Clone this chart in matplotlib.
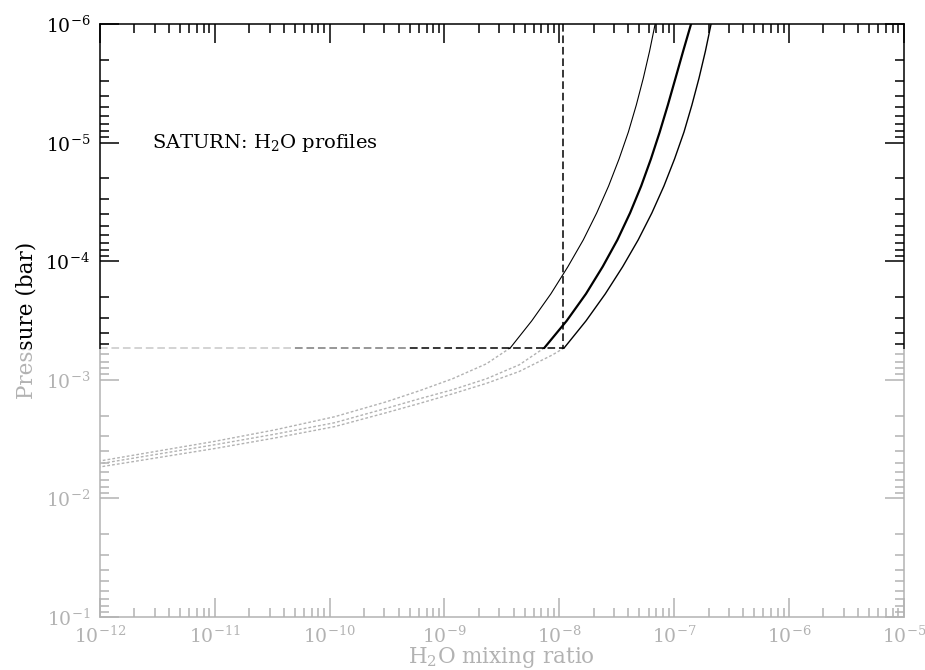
import numpy as np
import matplotlib
matplotlib.use("Agg")
import matplotlib.pyplot as plt
from matplotlib.patches import Rectangle
from matplotlib.ticker import FixedLocator, LogLocator, NullFormatter

plt.rcParams['font.family'] = ['DejaVu Serif']
plt.rcParams['mathtext.fontset'] = 'dejavuserif'

# pressure levels (bar) shared by the three stratospheric profiles
p_strat = [1.0e-6, 1.69e-6, 2.85e-6, 4.81e-6, 8.13e-6, 1.37e-5, 2.32e-5,
           3.91e-5, 6.60e-5, 1.11e-4, 1.88e-4, 3.18e-4, 5.37e-4]
q_low = [6.84e-8, 6.12e-8, 5.40e-8, 4.69e-8, 4.00e-8, 3.32e-8, 2.69e-8,
         2.12e-8, 1.62e-8, 1.19e-8, 8.46e-9, 5.76e-9, 3.75e-9]
q_mid = [1.405e-7, 1.20e-7, 1.03e-7, 8.83e-8, 7.50e-8, 6.29e-8, 5.17e-8,
         4.14e-8, 3.21e-8, 2.39e-8, 1.71e-8, 1.16e-8, 7.42e-9]
q_high = [2.10e-7, 1.875e-7, 1.65e-7, 1.43e-7, 1.22e-7, 1.01e-7, 8.16e-8,
          6.41e-8, 4.87e-8, 3.57e-8, 2.52e-8, 1.71e-8, 1.105e-8]

# saturation branches below the condensation level
sat_low_q = [3.75e-9, 2.32e-9, 1.174e-9, 6.06e-10, 3.13e-10, 1.105e-10, 3.32e-11, 1e-11, 1e-12]
sat_low_p = [5.37e-4, 7.32e-4, 9.79e-4, 1.235e-3, 1.529e-3, 2.046e-3, 2.643e-3, 3.297e-3, 4.825e-3]
sat_mid_q = [7.42e-9, 4.49e-9, 2.32e-9, 1.174e-9, 6.06e-10, 3.13e-10, 1.105e-10, 3.32e-11, 1e-11, 1e-12]
sat_mid_p = [5.37e-4, 7.46e-4, 9.79e-4, 1.212e-3, 1.443e-3, 1.735e-3, 2.298e-3, 2.872e-3, 3.522e-3, 5.09e-3]
sat_high_q = [1.105e-8, 8.69e-9, 4.49e-9, 2.32e-9, 1.174e-9, 6.06e-10, 3.13e-10, 1.105e-10,
              3.32e-11, 1e-11, 1e-12]
sat_high_p = [5.37e-4, 6.17e-4, 8.49e-4, 1.070e-3, 1.312e-3, 1.580e-3, 1.889e-3, 2.479e-3,
              3.093e-3, 3.791e-3, 5.42e-3]

# condensation level and mixing ratio marked by the dashed guides
p_cond = 5.37e-4
q_cond = 1.08e-8

x_decades = [1e-12, 1e-11, 1e-10, 1e-9, 1e-8, 1e-7, 1e-6, 1e-5]
y_decades = [1e-6, 1e-5, 1e-4, 1e-3, 1e-2, 1e-1]

fig = plt.figure(figsize=(9.25, 6.7), dpi=100)
ax = fig.add_axes([0.108, 0.079, 0.869, 0.885])

ax.set_xscale('log')
ax.set_yscale('log')
ax.set_xlim(1e-12, 1e-5)
ax.set_ylim(1e-1, 1e-6)

dash = (0, (5, 2.5))
ax.plot([q_cond, q_cond], [1e-6, p_cond], color='black', lw=1.1, linestyle=dash)
ax.plot([1e-12, 10**-10.3], [p_cond, p_cond], color='#c8c8c8', lw=1.1, linestyle=dash)
ax.plot([10**-10.3, 10**-9.3], [p_cond, p_cond], color='#7a7a7a', lw=1.1, linestyle=dash)
ax.plot([10**-9.3, q_cond], [p_cond, p_cond], color='black', lw=1.1, linestyle=dash)

ax.plot(q_low, p_strat, color='black', lw=0.8)
ax.plot(q_mid, p_strat, color='black', lw=1.6)
ax.plot(q_high, p_strat, color='black', lw=1.0)

dots = (0, (2, 1.5))
ax.plot(sat_low_q, sat_low_p, color='black', lw=1.0, linestyle=dots)
ax.plot(sat_mid_q, sat_mid_p, color='black', lw=1.0, linestyle=dots)
ax.plot(sat_high_q, sat_high_p, color='black', lw=1.0, linestyle=dots)

ax.xaxis.set_major_locator(FixedLocator(x_decades))
ax.yaxis.set_major_locator(FixedLocator(y_decades))
for a in (ax.xaxis, ax.yaxis):
    a.set_minor_locator(LogLocator(base=10, subs=np.arange(2, 10), numticks=100))
    a.set_minor_formatter(NullFormatter())

ax.tick_params(which='both', direction='in', top=True, right=True, width=1.1)
ax.tick_params(which='major', length=14, labelsize=13.5)
ax.tick_params(which='minor', length=6.5)
ax.tick_params(axis='x', pad=6)
ax.tick_params(axis='y', pad=7)
for s in ax.spines.values():
    s.set_linewidth(1.1)

ax.set_xlabel('H$_2$O mixing ratio', fontsize=15.5, labelpad=-1)
ax.set_ylabel('Pressure (bar)', fontsize=15.5, labelpad=6)

ax.text(0.065, 0.799, 'SATURN: H$_2$O profiles', transform=ax.transAxes,
        fontsize=14, ha='left', va='center')

# faded lower half of the page
fig.add_artist(Rectangle((0, 0), 1, 0.4784, transform=fig.transFigure,
                         facecolor='white', edgecolor='none', alpha=0.7, zorder=10))

fig.savefig('out.png', dpi=100)
